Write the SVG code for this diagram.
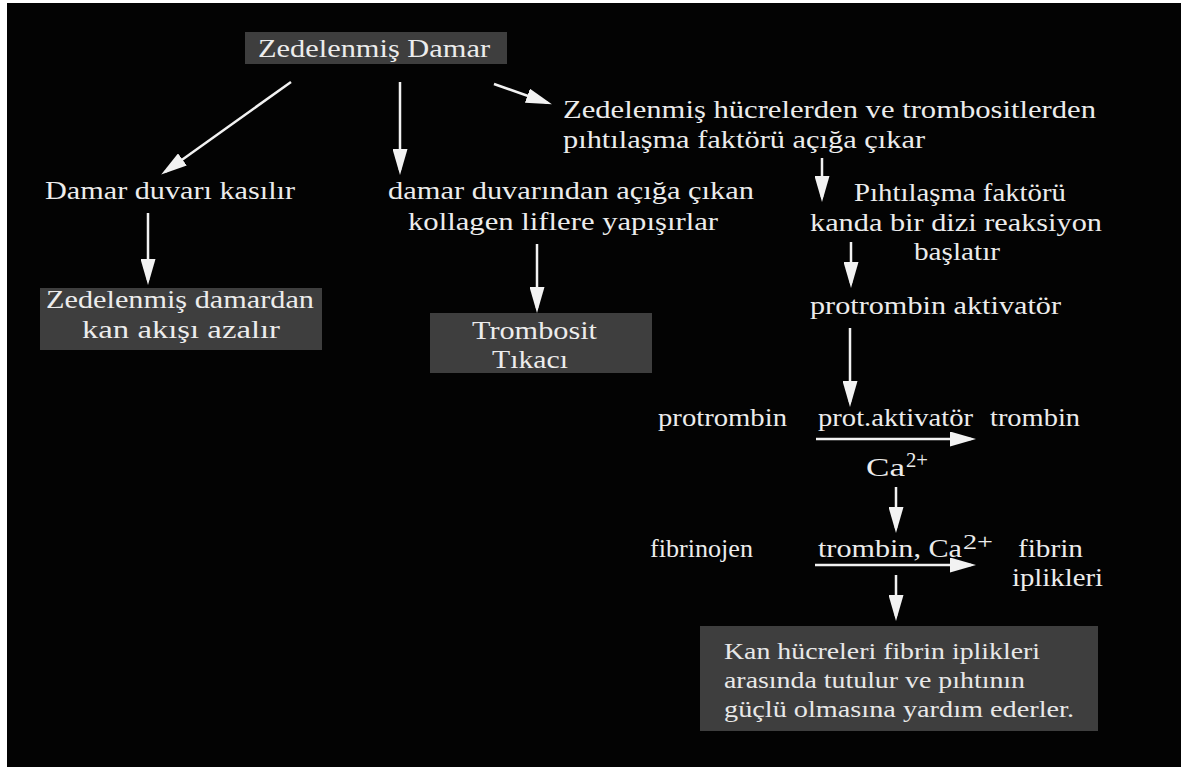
<svg xmlns="http://www.w3.org/2000/svg" width="1181" height="767" viewBox="0 0 1181 767">
<style>
  .t { font-family: "Liberation Serif", "Times New Roman", serif; font-size: 26px; fill: #ececec; }
  .tb { font-family: "Liberation Serif", "Times New Roman", serif; font-size: 25px; fill: #ececec; }
  .s { font-family: "Liberation Serif", "Times New Roman", serif; font-size: 24px; fill: #e8e8e8; }
  .sup { font-family: "Liberation Serif", "Times New Roman", serif; font-size: 21px; fill: #ececec; }
  .box { fill: #3e3e3e; }
  .c { stroke: #f2f2f2; stroke-width: 2.5; fill: none; marker-end: url(#ah); }
</style>
<defs>
  <marker id="ah" markerUnits="userSpaceOnUse" markerWidth="26" markerHeight="15" refX="21" refY="7.5" orient="auto">
    <path d="M0,0 L26,7.5 L0,15 Z" fill="#f2f2f2"/>
  </marker>
</defs>
<rect x="0" y="0" width="1181" height="767" fill="#ffffff"/>
<rect x="7" y="3" width="1174" height="764" fill="#030303"/>

<g id="n-zedelenmis-damar">
  <rect class="box" x="245" y="32" width="262" height="32"/>
  <text class="t" x="258" y="57" textLength="232" lengthAdjust="spacingAndGlyphs">Zedelenmiş Damar</text>
</g>
<g id="n-pihtilasma-faktoru-aciga">
  <text class="t" x="563" y="118" textLength="533" lengthAdjust="spacingAndGlyphs">Zedelenmiş hücrelerden ve trombositlerden</text>
  <text class="t" x="563" y="148" textLength="362" lengthAdjust="spacingAndGlyphs">pıhtılaşma faktörü açığa çıkar</text>
</g>
<g id="n-damar-duvari-kasilir">
  <text class="t" x="45" y="199" textLength="250" lengthAdjust="spacingAndGlyphs">Damar duvarı kasılır</text>
</g>
<g id="n-kollagen">
  <text class="t" x="388" y="199" textLength="366" lengthAdjust="spacingAndGlyphs">damar duvarından açığa çıkan</text>
  <text class="t" x="408" y="230" textLength="310" lengthAdjust="spacingAndGlyphs">kollagen liflere yapışırlar</text>
</g>
<g id="n-reaksiyon">
  <text class="t" x="854" y="201" textLength="212" lengthAdjust="spacingAndGlyphs">Pıhtılaşma faktörü</text>
  <text class="t" x="810" y="231" textLength="292" lengthAdjust="spacingAndGlyphs">kanda bir dizi reaksiyon</text>
  <text class="t" x="914" y="260" textLength="86" lengthAdjust="spacingAndGlyphs">başlatır</text>
</g>
<g id="n-kan-akisi-azalir">
  <rect class="box" x="40" y="288" width="282" height="62"/>
  <text class="t" x="46" y="308" textLength="268" lengthAdjust="spacingAndGlyphs">Zedelenmiş damardan</text>
  <text class="t" x="82" y="338" textLength="198" lengthAdjust="spacingAndGlyphs">kan akışı azalır</text>
</g>
<g id="n-trombosit-tikaci">
  <rect class="box" x="430" y="313" width="222" height="60"/>
  <text class="tb" x="472" y="339" textLength="125" lengthAdjust="spacingAndGlyphs">Trombosit</text>
  <text class="tb" x="492" y="368" textLength="76" lengthAdjust="spacingAndGlyphs">Tıkacı</text>
</g>
<g id="n-protrombin-aktivator">
  <text class="t" x="810" y="314" textLength="251" lengthAdjust="spacingAndGlyphs">protrombin aktivatör</text>
</g>
<g id="n-protrombin-reaction">
  <text class="t" x="658" y="426" textLength="129" lengthAdjust="spacingAndGlyphs">protrombin</text>
  <text class="t" x="818" y="426" textLength="155" lengthAdjust="spacingAndGlyphs">prot.aktivatör</text>
  <text class="t" x="990" y="426" textLength="90" lengthAdjust="spacingAndGlyphs">trombin</text>
  <text class="t" x="866" y="476" textLength="39" lengthAdjust="spacingAndGlyphs">Ca</text>
  <text class="sup" x="906" y="467" textLength="22" lengthAdjust="spacingAndGlyphs">2+</text>
</g>
<g id="n-fibrin-reaction">
  <text class="t" x="650" y="557" textLength="103" lengthAdjust="spacingAndGlyphs">fibrinojen</text>
  <text class="t" x="818" y="557" textLength="144" lengthAdjust="spacingAndGlyphs">trombin, Ca</text>
  <text class="sup" x="963" y="549" textLength="30" lengthAdjust="spacingAndGlyphs">2+</text>
  <text class="t" x="1018" y="557" textLength="65" lengthAdjust="spacingAndGlyphs">fibrin</text>
  <text class="t" x="1012" y="586" textLength="91" lengthAdjust="spacingAndGlyphs">iplikleri</text>
</g>
<g id="n-kan-hucreleri">
  <rect class="box" x="700" y="626" width="398" height="105"/>
  <text class="s" x="724" y="659" textLength="316" lengthAdjust="spacingAndGlyphs">Kan hücreleri fibrin iplikleri</text>
  <text class="s" x="724" y="688" textLength="301" lengthAdjust="spacingAndGlyphs">arasında tutulur ve pıhtının</text>
  <text class="s" x="724" y="717" textLength="350" lengthAdjust="spacingAndGlyphs">güçlü olmasına yardım ederler.</text>
</g>

<g id="connectors">
  <path class="c" d="M291,82 L165.3,171.7"/>
  <path class="c" d="M400,82 L400,170"/>
  <path class="c" d="M494,84 L547.2,102.7"/>
  <path class="c" d="M148,213 L148,280"/>
  <path class="c" d="M537,244 L537,308"/>
  <path class="c" d="M822,158 L822,197"/>
  <path class="c" d="M851,242 L851,283"/>
  <path class="c" d="M850,328 L850,402"/>
  <path class="c" d="M816,439 L971,439"/>
  <path class="c" d="M896,487 L896,528"/>
  <path class="c" d="M815,565 L971,565"/>
  <path class="c" d="M896,575 L896,616"/>
</g>
</svg>
